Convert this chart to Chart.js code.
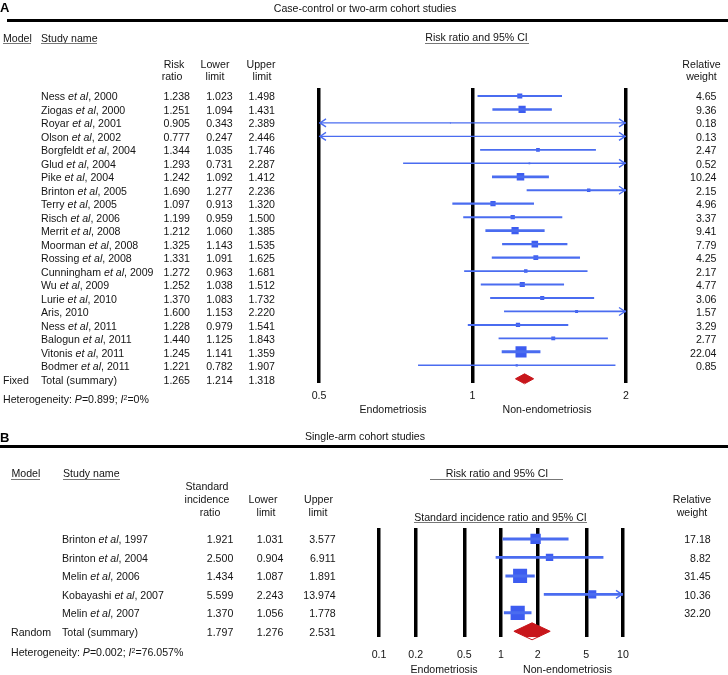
<!DOCTYPE html>
<html><head><meta charset="utf-8">
<script src="https://cdn.jsdelivr.net/npm/chart.js@4.4.1/dist/chart.umd.min.js"></script>
<style>
html,body{margin:0;padding:0;background:#fff;}
#wrap{position:relative;width:728px;height:675px;overflow:hidden;font-family:"Liberation Sans",Arial,Helvetica,sans-serif;font-size:10.6px;color:#141414;background:#fff;}
.t{position:absolute;line-height:12px;white-space:nowrap;z-index:2;}
.rule{position:absolute;background:#000;z-index:2;}
.ul{position:absolute;background:#777;height:1px;z-index:2;}
canvas{position:absolute;left:0;z-index:1;}
sup{font-size:7px;vertical-align:3px;line-height:0;}
</style></head><body><div id="wrap">
<canvas id="cA" width="728" height="420" style="top:0px"></canvas>
<canvas id="cB" width="728" height="235" style="top:440px"></canvas>
</div>
<script>
// ---------- Panel A data ----------
const studiesA = ['Ness <i>et al</i>, 2000','Ziogas <i>et al</i>, 2000','Royar <i>et al</i>, 2001','Olson <i>et al</i>, 2002','Borgfeldt <i>et al</i>, 2004','Glud <i>et al</i>, 2004','Pike <i>et al</i>, 2004','Brinton <i>et al</i>, 2005','Terry <i>et al</i>, 2005','Risch <i>et al</i>, 2006','Merrit <i>et al</i>, 2008','Moorman <i>et al</i>, 2008','Rossing <i>et al</i>, 2008','Cunningham <i>et al</i>, 2009','Wu <i>et al</i>, 2009','Lurie <i>et al</i>, 2010','Aris, 2010','Ness <i>et al</i>, 2011','Balogun <i>et al</i>, 2011','Vitonis <i>et al</i>, 2011','Bodmer <i>et al</i>, 2011'];
const ratioA  = [1.238,1.251,0.905,0.777,1.344,1.293,1.242,1.690,1.097,1.199,1.212,1.325,1.331,1.272,1.252,1.370,1.600,1.228,1.440,1.245,1.221];
const lowerA  = [1.023,1.094,0.343,0.247,1.035,0.731,1.092,1.277,0.913,0.959,1.060,1.143,1.091,0.963,1.038,1.083,1.153,0.979,1.125,1.141,0.782];
const upperA  = [1.498,1.431,2.389,2.446,1.746,2.287,1.412,2.236,1.320,1.500,1.385,1.535,1.625,1.681,1.512,1.732,2.220,1.541,1.843,1.359,1.907];
const weightA = [4.65,9.36,0.18,0.13,2.47,0.52,10.24,2.15,4.96,3.37,9.41,7.79,4.25,2.17,4.77,3.06,1.57,3.29,2.77,22.04,0.85];
const totalA  = [1.265,1.214,1.318];
const ticksA  = [0.5,1,2];

// ---------- Panel B data ----------
const studiesB = ['Brinton <i>et al</i>, 1997','Brinton <i>et al</i>, 2004','Melin <i>et al</i>, 2006','Kobayashi <i>et al</i>, 2007','Melin <i>et al</i>, 2007'];
const ratioB  = [1.921,2.500,1.434,5.599,1.370];
const lowerB  = [1.031,0.904,1.087,2.243,1.056];
const upperB  = [3.577,6.911,1.891,13.974,1.778];
const weightB = [17.18,8.82,31.45,10.36,32.20];
const totalB  = [1.797,1.276,2.531];
const ticksB  = [0.1,0.2,0.5,1,2,5,10];

const BLUE = '#4a6cf0';
const BLUE_SQ = '#3d5cf0';
const RED = '#c8161b';
const FONT = '"Liberation Sans", Arial, Helvetica, sans-serif';

const wrap = document.getElementById('wrap');
function T(html, x, y, align, extra) {
  const d = document.createElement('div');
  d.className = 't';
  d.innerHTML = html;
  d.style.left = x + 'px';
  d.style.top = (y - 6) + 'px';
  if (align === 'right') d.style.transform = 'translateX(-100%)';
  if (align === 'center') d.style.transform = 'translateX(-50%)';
  if (extra) d.style.cssText += extra;
  wrap.appendChild(d);
}
function R(cls, x, y, w, h) {
  const d = document.createElement('div');
  d.className = cls;
  d.style.left = x + 'px'; d.style.top = y + 'px'; d.style.width = w + 'px';
  if (h) d.style.height = h + 'px';
  wrap.appendChild(d);
}

// ---------- Panel A text ----------
const rowA = i => 96 + 13.5 * i;
T('A', 0, 7, 'left', 'font-weight:bold;font-size:13px;line-height:14px;color:#000;');
T('Case-control or two-arm cohort studies', 365, 7.5, 'center');
R('rule', 7, 19, 721, 3);
T('Model', 3, 37.5); R('ul', 3, 43, 28);
T('Study name', 41, 37.5); R('ul', 41, 43, 56);
T('Risk ratio and 95% CI', 476.5, 37, 'center'); R('ul', 425, 43, 104);
T('Risk', 174, 63.5, 'center'); T('ratio', 172, 76, 'center');
T('Lower', 215, 63.5, 'center'); T('limit', 215, 76, 'center');
T('Upper', 261, 63.5, 'center'); T('limit', 262, 76, 'center');
T('Relative', 701.5, 63.5, 'center'); T('weight', 701.5, 76, 'center');
studiesA.forEach((s, i) => {
  const y = rowA(i);
  T(s, 41, y);
  T(ratioA[i].toFixed(3), 190, y, 'right');
  T(lowerA[i].toFixed(3), 232.7, y, 'right');
  T(upperA[i].toFixed(3), 275, y, 'right');
  T(weightA[i].toFixed(2), 716.5, y, 'right');
});
T('Fixed', 3, rowA(21)); T('Total (summary)', 41, rowA(21));
T(totalA[0].toFixed(3), 190, rowA(21), 'right');
T(totalA[1].toFixed(3), 232.7, rowA(21), 'right');
T(totalA[2].toFixed(3), 275, rowA(21), 'right');
T('Heterogeneity: <i>P</i>=0.899; <i>I</i><sup>2</sup>=0%', 3, 398.5);
T('Endometriosis', 393, 409, 'center');
T('Non-endometriosis', 547, 409, 'center');

// ---------- Panel B text ----------
const rowB = i => 539 + 18.6 * i;
T('B', 0, 437, 'left', 'font-weight:bold;font-size:13px;line-height:14px;color:#000;');
T('Single-arm cohort studies', 365, 436, 'center');
R('rule', 0, 445, 728, 3);
T('Model', 11.5, 472.5); R('ul', 11, 479, 29);
T('Study name', 63, 472.5); R('ul', 63, 479, 57);
T('Risk ratio and 95% CI', 497, 472.5, 'center'); R('ul', 430, 479, 133);
T('Standard incidence ratio and 95% CI', 500.5, 516.5, 'center'); R('ul', 414, 522, 173);
T('Standard', 207, 486, 'center'); T('incidence', 207, 499, 'center'); T('ratio', 210, 512, 'center');
T('Lower', 263, 499, 'center'); T('limit', 266, 512, 'center');
T('Upper', 318.5, 499, 'center'); T('limit', 318, 512, 'center');
T('Relative', 692, 499, 'center'); T('weight', 692, 512, 'center');
studiesB.forEach((s, i) => {
  const y = rowB(i);
  T(s, 62, y);
  T(ratioB[i].toFixed(3), 233.3, y, 'right');
  T(lowerB[i].toFixed(3), 283.3, y, 'right');
  T(upperB[i].toFixed(3), 335.7, y, 'right');
  T(weightB[i].toFixed(2), 710.7, y, 'right');
});
T('Random', 11, rowB(5)); T('Total (summary)', 62, rowB(5));
T(totalB[0].toFixed(3), 233.3, rowB(5), 'right');
T(totalB[1].toFixed(3), 283.3, rowB(5), 'right');
T(totalB[2].toFixed(3), 335.7, rowB(5), 'right');
T('Heterogeneity: <i>P</i>=0.002; <i>I</i><sup>2</sup>=76.057%', 11, 652);
T('Endometriosis', 444, 669, 'center');
T('Non-endometriosis', 567.5, 669, 'center');

// ---------- Forest chart builder ----------
function forest(canvasId, cfg) {
  const n = cfg.ratio.length;
  const lw = w => Math.min(3, 1.1 + 0.5 * Math.sqrt(w));
  const ciSets = cfg.ratio.map((r, i) => ({
    type: 'line',
    data: [{x: cfg.lower[i], y: i}, {x: cfg.upper[i], y: i}],
    borderColor: BLUE, borderWidth: lw(cfg.weight[i]),
    pointRadius: 0, tension: 0, fill: false
  }));
  const markers = {
    type: 'scatter',
    data: cfg.ratio.map((r, i) => ({x: r, y: i})),
    pointStyle: 'rect',
    pointRadius: cfg.weight.map(w => cfg.k * Math.sqrt(w) / Math.SQRT2),
    pointBackgroundColor: BLUE_SQ, backgroundColor: BLUE_SQ,
    pointBorderWidth: 0, borderWidth: 0
  };
  const t = cfg.total, h = cfg.dh;
  const dTop = {
    type: 'line',
    data: [{x: t[1], y: n}, {x: t[0], y: n - h}, {x: t[2], y: n}],
    borderColor: RED, backgroundColor: RED, borderWidth: 1,
    pointRadius: 0, tension: 0, fill: false, clip: false
  };
  const dBot = {
    type: 'line',
    data: [{x: t[1], y: n}, {x: t[0], y: n + h}, {x: t[2], y: n}],
    borderColor: RED, backgroundColor: RED, borderWidth: 1,
    pointRadius: 0, tension: 0, fill: '-1', clip: false
  };
  const arrows = {
    id: 'arrows',
    afterDatasetsDraw(chart) {
      const xs = chart.scales.x, ys = chart.scales.y, c = chart.ctx;
      c.save();
      c.strokeStyle = BLUE; c.lineWidth = 1.4;
      for (let i = 0; i < n; i++) {
        const y = ys.getPixelForValue(i);
        if (cfg.lower[i] < cfg.min) {
          const x = xs.getPixelForValue(cfg.min) + 1;
          c.beginPath(); c.moveTo(x + 6, y - 4); c.lineTo(x, y); c.lineTo(x + 6, y + 4); c.stroke();
        }
        if (cfg.upper[i] > cfg.max) {
          const x = xs.getPixelForValue(cfg.max) - 1;
          c.beginPath(); c.moveTo(x - 6, y - 4); c.lineTo(x, y); c.lineTo(x - 6, y + 4); c.stroke();
        }
      }
      c.restore();
    }
  };
  return new Chart(document.getElementById(canvasId), {
    data: {datasets: [...ciSets, markers, dTop, dBot]},
    plugins: [arrows],
    options: {
      responsive: false, animation: false, events: [],
      layout: {padding: cfg.pad},
      plugins: {legend: {display: false}, tooltip: {enabled: false}},
      scales: {
        x: {
          type: 'logarithmic', min: cfg.min, max: cfg.max,
          afterBuildTicks: s => { s.ticks = cfg.ticks.map(v => ({value: v})); },
          grid: {color: '#000', lineWidth: 3.5, drawTicks: false},
          border: {display: false},
          ticks: {
            callback: v => String(v), autoSkip: false, maxRotation: 0,
            padding: cfg.tickPad, color: '#141414',
            font: {family: FONT, size: 10.6}
          }
        },
        y: {type: 'linear', min: cfg.yMin, max: cfg.yMax, reverse: true, display: false}
      }
    }
  });
}

forest('cA', {
  ratio: ratioA, lower: lowerA, upper: upperA, weight: weightA, total: totalA,
  ticks: ticksA, min: 0.5, max: 2, yMin: -0.593, yMax: 21.333,
  k: 2.35, dh: 0.37, tickPad: 6,
  pad: {left: 319, right: 102, top: 88, bottom: 12}
});
forest('cB', {
  ratio: ratioB, lower: lowerB, upper: upperB, weight: weightB, total: totalB,
  ticks: ticksB, min: 0.1, max: 10, yMin: -0.591, yMax: 5.323,
  k: 2.5, dh: 0.46, tickPad: 11,
  pad: {left: 379, right: 105, top: 88, bottom: 3}
});
</script>
</body></html>
